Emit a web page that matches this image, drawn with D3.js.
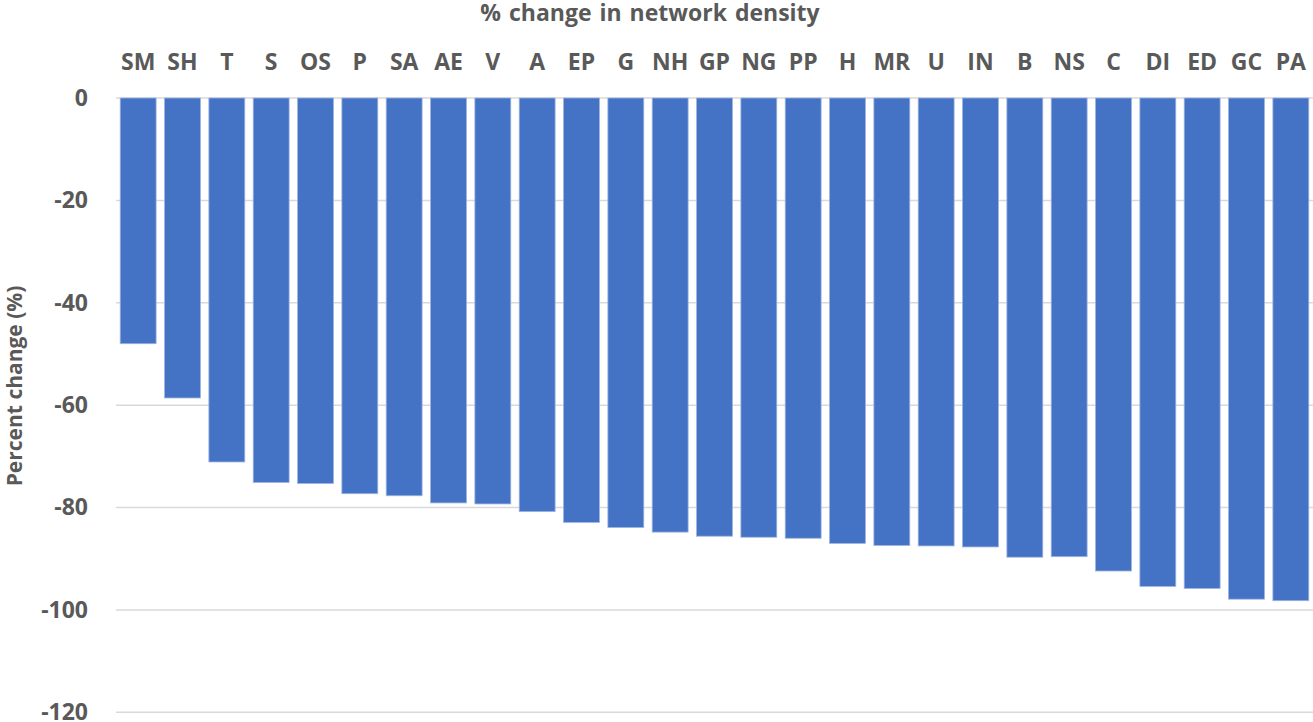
<!DOCTYPE html>
<html><head><meta charset="utf-8">
<script src="https://cdn.jsdelivr.net/npm/d3@7/dist/d3.min.js"></script>
<style>body{margin:0;background:#fff}svg{display:block}</style>
</head><body><svg id="c" width="1313" height="722"></svg>
<script>
const categories = ["SM","SH","T","S","OS","P","SA","AE","V","A","EP","G","NH","GP","NG","PP","H","MR","U","IN","B","NS","C","DI","ED","GC","PA"];
const values = [-48.0,-58.6,-71.1,-75.1,-75.3,-77.3,-77.7,-79.1,-79.3,-80.8,-82.9,-83.9,-84.8,-85.6,-85.8,-86.0,-87.0,-87.4,-87.5,-87.7,-89.7,-89.6,-92.4,-95.4,-95.8,-97.9,-98.2];
const yTicks = [0,-20,-40,-60,-80,-100,-120];
const title = "% change in network density";
const yTitle = "Percent change (%)";

const font = "'Open Sans', Lato, sans-serif";
const grey = "#595959";
const svg = d3.select("#c");
const x = d3.scaleBand().domain(categories).range([116, 1313]).paddingInner(0.19).paddingOuter(0.095);
const y = d3.scaleLinear().domain([0, -120]).range([98, 712.3]);

// gridlines
svg.append("g").selectAll("line").data(yTicks).join("line")
  .attr("x1", 116).attr("x2", 1313)
  .attr("y1", d => y(d)).attr("y2", d => y(d))
  .attr("stroke", "#d9d9d9").attr("stroke-width", 1.5);

// bars
svg.append("g").selectAll("rect").data(values).join("rect")
  .attr("x", (d,i) => x(categories[i]))
  .attr("width", x.bandwidth())
  .attr("y", d => y(0))
  .attr("height", d => y(d) - y(0))
  .attr("fill", "#4472c4")
  .attr("stroke", "#9db4e0").attr("stroke-width", 0.8);

// y axis
const yAxis = d3.axisLeft(y).tickValues(yTicks).tickSize(0).tickPadding(0).tickFormat(d => String(d));
const ga = svg.append("g").attr("transform", "translate(88,0)").call(yAxis);
ga.select(".domain").remove();
ga.selectAll("text").attr("font-family", font).attr("font-weight", "bold")
  .attr("font-size", 23).attr("fill", grey).attr("dy", "0.32em");

// top category axis
const xAxis = d3.axisTop(x).tickSize(0).tickPadding(0);
const gx = svg.append("g").attr("transform", "translate(0,70)").call(xAxis);
gx.select(".domain").remove();
gx.selectAll("text").attr("font-family", font).attr("font-weight", "bold")
  .attr("font-size", 23).attr("fill", grey).attr("dy", 0);

// title
svg.append("text").attr("x", 650).attr("y", 21).attr("text-anchor", "middle")
  .attr("font-family", font).attr("font-weight", "bold").attr("font-size", 23)
  .attr("word-spacing", 2)
  .attr("fill", grey).text(title);

// y title
svg.append("text").attr("transform", "translate(22,386) rotate(-90)")
  .attr("text-anchor", "middle")
  .attr("font-family", font).attr("font-weight", "bold").attr("font-size", 21)
  .attr("fill", grey).text(yTitle);
</script></body></html>
